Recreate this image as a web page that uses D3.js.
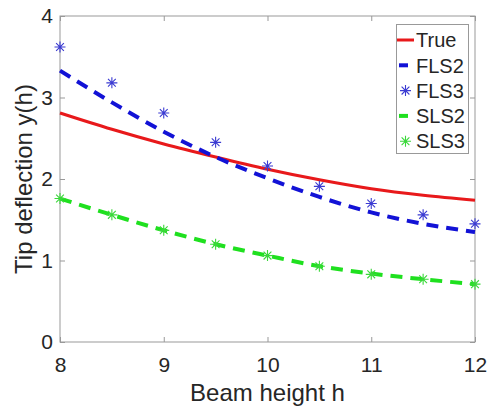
<!DOCTYPE html>
<html>
<head>
<meta charset="utf-8">
<script src="https://cdn.jsdelivr.net/npm/d3@7"></script>
<style>
  body { margin: 0; background: #fff; }
  svg { font-family: "Liberation Sans", Arial, sans-serif; }
</style>
</head>
<body>
<svg width="492" height="409"></svg>
<script>
// beam heights (x)
const heights = [8, 8.5, 9, 9.5, 10, 10.5, 11, 11.5, 12];
// tip deflection series
const trueVals = [2.81, 2.61, 2.43, 2.27, 2.12, 1.99, 1.88, 1.80, 1.74];
const fls2Vals = [3.33, 2.94, 2.58, 2.27, 2.01, 1.78, 1.59, 1.45, 1.35];
const fls3Vals = [3.62, 3.18, 2.81, 2.45, 2.16, 1.91, 1.70, 1.56, 1.45];
const sls2Vals = [1.76, 1.56, 1.37, 1.20, 1.06, 0.93, 0.84, 0.77, 0.71];
const sls3Vals = [1.76, 1.56, 1.37, 1.20, 1.06, 0.93, 0.83, 0.77, 0.71];

const xTicks = [8, 9, 10, 11, 12];
const yTicks = [0, 1, 2, 3, 4];
const legendNames = ["True", "FLS2", "FLS3", "SLS2", "SLS3"];

const svg = d3.select("svg");
const L = 60, R = 475, T = 16, B = 342;

const xScale = d3.scaleLinear().domain([8, 12]).range([L, R]);
const yScale = d3.scaleLinear().domain([0, 4]).range([B, T]);

const axisColor = "#999";
const txtColor = "#262626";
const fmt = d3.format("d");

// box
svg.append("rect")
  .attr("x", L).attr("y", T)
  .attr("width", R - L).attr("height", B - T)
  .attr("fill", "none").attr("stroke", axisColor).attr("stroke-width", 1);

// axes with inward ticks
const xAxis = d3.axisBottom(xScale).tickValues(xTicks).tickFormat(fmt).tickSize(-5).tickPadding(15);
svg.append("g")
  .attr("transform", `translate(0,${B})`)
  .call(xAxis)
  .call(g => {
    g.select(".domain").remove();
    g.selectAll("line").attr("stroke", axisColor);
    g.selectAll("text").attr("font-size", 21).attr("fill", txtColor)
      .attr("font-family", "Liberation Sans, Arial, sans-serif");
  });
svg.append("g")
  .attr("transform", `translate(0,${T})`)
  .call(d3.axisTop(xScale).tickValues(xTicks).tickSize(-5).tickFormat(""))
  .call(g => { g.select(".domain").remove(); g.selectAll("line").attr("stroke", axisColor); });

const yAxis = d3.axisLeft(yScale).tickValues(yTicks).tickFormat(fmt).tickSize(-5).tickPadding(7);
svg.append("g")
  .attr("transform", `translate(${L},0)`)
  .call(yAxis)
  .call(g => {
    g.select(".domain").remove();
    g.selectAll("line").attr("stroke", axisColor);
    g.selectAll("text").attr("font-size", 21).attr("fill", txtColor)
      .attr("font-family", "Liberation Sans, Arial, sans-serif");
  });
svg.append("g")
  .attr("transform", `translate(${R},0)`)
  .call(d3.axisRight(yScale).tickValues(yTicks).tickSize(-5).tickFormat(""))
  .call(g => { g.select(".domain").remove(); g.selectAll("line").attr("stroke", axisColor); });

// axis titles
svg.append("text")
  .attr("x", (L + R) / 2).attr("y", 401)
  .attr("text-anchor", "middle").attr("font-size", 24).attr("fill", txtColor)
  .text("Beam height h");
svg.append("text")
  .attr("transform", `translate(32,${(T + B) / 2}) rotate(-90)`)
  .attr("text-anchor", "middle").attr("font-size", 24).attr("fill", txtColor)
  .text("Tip deflection y(h)");

// series
const series = [
  { vals: trueVals, color: "#e8191b", width: 3, dash: null, marker: false },
  { vals: fls2Vals, color: "#1212d6", width: 4, dash: "12,8", marker: false },
  { vals: fls3Vals, color: "#3b3bd2", width: 1, dash: null, marker: true },
  { vals: sls2Vals, color: "#1fe01f", width: 4, dash: "12,8", marker: false },
  { vals: sls3Vals, color: "#3ad83a", width: 1, dash: null, marker: true }
];

const line = d3.line()
  .x(d => xScale(d[0]))
  .y(d => yScale(d[1]))
  .curve(d3.curveMonotoneX);

function star(r) {
  const k = r * 0.707;
  return `M${-r},0L${r},0M0,${-r}L0,${r}M${-k},${-k}L${k},${k}M${-k},${k}L${k},${-k}`;
}

const plotG = svg.append("g");
// draw order: True, FLS2, FLS3, SLS2, SLS3
series.forEach(s => {
  const pts = heights.map((h, i) => [h, s.vals[i]]);
  if (!s.marker) {
    plotG.append("path")
      .datum(pts)
      .attr("d", line)
      .attr("fill", "none")
      .attr("stroke", s.color)
      .attr("stroke-width", s.width)
      .attr("stroke-dasharray", s.dash);
  } else {
    plotG.selectAll(null)
      .data(pts)
      .enter()
      .append("path")
      .attr("transform", d => `translate(${xScale(d[0])},${yScale(d[1])})`)
      .attr("d", star(5.5))
      .attr("fill", "none")
      .attr("stroke", s.color)
      .attr("stroke-width", 1.1);
  }
});

// legend
const lg = svg.append("g");
lg.append("rect")
  .attr("x", 396.5).attr("y", 24.5)
  .attr("width", 72).attr("height", 129)
  .attr("fill", "#fff").attr("stroke", axisColor).attr("stroke-width", 1);

legendNames.forEach((name, i) => {
  const s = series[i];
  const cy = 40 + i * 25.3;
  if (!s.marker) {
    const dashed = s.dash !== null;
    lg.append("line")
      .attr("x1", dashed ? 399 : 397).attr("x2", dashed ? 408 : 414)
      .attr("y1", cy).attr("y2", cy)
      .attr("stroke", s.color).attr("stroke-width", s.width);
  } else {
    lg.append("path")
      .attr("transform", `translate(405.5,${cy})`)
      .attr("d", star(5.5))
      .attr("fill", "none").attr("stroke", s.color).attr("stroke-width", 1.1);
  }
  lg.append("text")
    .attr("x", 416).attr("y", cy)
    .attr("dy", "0.36em")
    .attr("font-size", 20).attr("fill", txtColor)
    .text(name);
});
</script>
</body>
</html>
